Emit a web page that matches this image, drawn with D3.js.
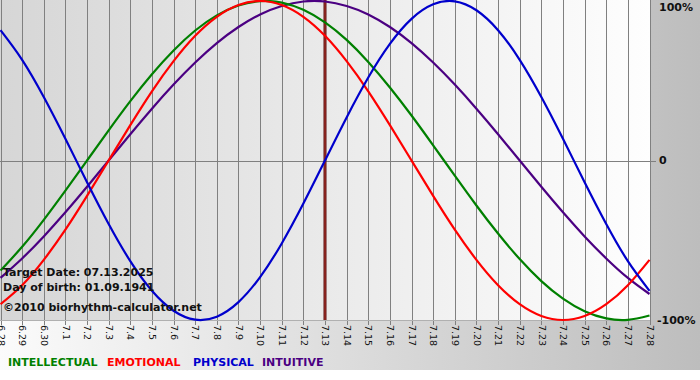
<!DOCTYPE html>
<html><head><meta charset="utf-8">
<script src="https://cdn.jsdelivr.net/npm/d3@7"></script>
<style>html,body{margin:0;padding:0;background:#fff;}svg{display:block;}</style>
</head><body>
<script>
const dates = ["6.28","6.29","6.30","7.1","7.2","7.3","7.4","7.5","7.6","7.7","7.8","7.9","7.10","7.11","7.12","7.13","7.14","7.15","7.16","7.17","7.18","7.19","7.20","7.21","7.22","7.23","7.24","7.25","7.26","7.27","7.28"];
const physical = [0.817,0.631,0.398,0.136,-0.136,-0.398,-0.631,-0.817,-0.942,-0.998,-0.979,-0.888,-0.731,-0.520,-0.270,0.000,0.270,0.520,0.731,0.888,0.979,0.998,0.942,0.817,0.631,0.398,0.136,-0.136,-0.398,-0.631,-0.817];
const emotional = [-0.901,-0.782,-0.623,-0.434,-0.222,0.000,0.222,0.434,0.623,0.782,0.901,0.975,1.000,0.975,0.901,0.782,0.623,0.434,0.222,0.000,-0.222,-0.434,-0.623,-0.782,-0.901,-0.975,-1.000,-0.975,-0.901,-0.782,-0.623];
const intellectual = [-0.690,-0.541,-0.372,-0.189,0.000,0.189,0.372,0.541,0.690,0.815,0.910,0.972,0.999,0.990,0.945,0.866,0.756,0.618,0.458,0.282,0.095,-0.095,-0.282,-0.458,-0.618,-0.756,-0.866,-0.945,-0.990,-0.999,-0.972];
const intuitive = [-0.736,-0.614,-0.476,-0.325,-0.165,0.000,0.165,0.325,0.476,0.614,0.736,0.837,0.916,0.969,0.997,0.997,0.969,0.916,0.837,0.736,0.614,0.476,0.325,0.165,0.000,-0.165,-0.325,-0.476,-0.614,-0.736,-0.837];
const yTicks = [1, 0, -1];
const yTickLabels = ["100%", "0", "-100%"];
const targetDate = "7.13";
const infoLines = ["Target Date: 07.13.2025", "Day of birth: 01.09.1941", "\u00A92010 biorhythm-calculator.net"];
const seriesNames = ["INTELLECTUAL", "EMOTIONAL", "PHYSICAL", "INTUITIVE"];

const W = 700, H = 380;
const font = "'DejaVu Sans', Verdana, sans-serif";
const svg = d3.select("body").append("svg").attr("width", W).attr("height", H);
const defs = svg.append("defs");
const g1 = defs.append("linearGradient").attr("id","bgGrad").attr("x1","0").attr("x2","1").attr("y1","0").attr("y2","0");
g1.append("stop").attr("offset","0").attr("stop-color","#fbfbfb");
g1.append("stop").attr("offset","1").attr("stop-color","#bdbdbd");
const g2 = defs.append("linearGradient").attr("id","plotGrad").attr("x1","0").attr("x2","1").attr("y1","0").attr("y2","0");
g2.append("stop").attr("offset","0").attr("stop-color","#d6d6d6");
g2.append("stop").attr("offset","1").attr("stop-color","#fefefe");

svg.append("rect").attr("x",0).attr("y",0).attr("width",W).attr("height",370).attr("fill","url(#bgGrad)");

const x = d3.scalePoint().domain(dates).range([0.5, 649.5]);
const y = d3.scaleLinear().domain([-1, 1]).range([320, 1]);

svg.append("rect").attr("x",0).attr("y",0).attr("width",650).attr("height",320).attr("fill","url(#plotGrad)");

// vertical grid
svg.append("g").selectAll("line").data(dates).join("line")
  .attr("x1", d => Math.round(x(d)) + 0.5).attr("x2", d => Math.round(x(d)) + 0.5)
  .attr("y1", 0).attr("y2", 325)
  .attr("stroke", "#808080").attr("stroke-width", 1);
// zero line
svg.append("line").attr("x1",0).attr("x2",656).attr("y1",Math.round(y(0))+0.5).attr("y2",Math.round(y(0))+0.5)
  .attr("stroke","#808080").attr("stroke-width",1);
svg.append("line").attr("x1",0).attr("x2",650).attr("y1",320.5).attr("y2",320.5)
  .attr("stroke","#b0b0b0").attr("stroke-width",1);

// x labels via axis
const xAxis = svg.append("g").attr("transform","translate(0,320)")
  .call(d3.axisBottom(x).tickSize(0).tickPadding(0));
xAxis.select(".domain").remove();
xAxis.selectAll("text")
  .attr("font-family", font).attr("font-size", "9.5px").attr("fill", "#111")
  .attr("transform", "rotate(90)").attr("x", 5).attr("y", 0).attr("dy", "0.35em")
  .attr("text-anchor", "start");

// y labels
svg.append("g").selectAll("text").data(yTicks).join("text")
  .attr("x", (d,i) => i === 2 ? 657 : 659).attr("y", d => y(d) + (d === 1 ? 6 : 0))
  .attr("dy","0.35em").attr("font-family", font).attr("font-weight","bold")
  .attr("font-size","11px").attr("fill","#111")
  .text((d,i) => yTickLabels[i]);

// target marker
svg.append("line").attr("x1", x(targetDate)).attr("x2", x(targetDate)).attr("y1", 0).attr("y2", 320)
  .attr("stroke", "#5a0f0f").attr("stroke-width", 3);
svg.append("line").attr("x1", x(targetDate)).attr("x2", x(targetDate)).attr("y1", 0).attr("y2", 320)
  .attr("stroke", "#b3392f").attr("stroke-width", 1);

const series = [
  {name: "INTELLECTUAL", values: intellectual, color: "#008000"},
  {name: "EMOTIONAL", values: emotional, color: "#ff0000"},
  {name: "PHYSICAL", values: physical, color: "#0000cc"},
  {name: "INTUITIVE", values: intuitive, color: "#4b0082"}
];
const line = d3.line().x((d,i) => x(dates[i])).y(d => y(d)).curve(d3.curveNatural);
const drawOrder = [3, 0, 1, 2];
svg.append("g").selectAll("path").data(drawOrder.map(i => series[i])).join("path")
  .attr("d", s => line(s.values)).attr("fill","none")
  .attr("stroke", s => s.color).attr("stroke-width", 2.2);

// info text
svg.append("g").selectAll("text").data(infoLines).join("text")
  .attr("x", 3).attr("y", (d,i) => [276, 291, 311][i])
  .attr("font-family", font).attr("font-weight","bold").attr("font-size","11px")
  .attr("fill","#111").text(d => d);

// legend
const legendX = [8, 107, 193, 262];
svg.append("g").selectAll("text").data(series).join("text")
  .attr("x", (d,i) => legendX[i]).attr("y", 366)
  .attr("font-family", font).attr("font-weight","bold").attr("font-size","11px")
  .attr("fill", d => d.color).text(d => d.name);
</script>
</body></html>
